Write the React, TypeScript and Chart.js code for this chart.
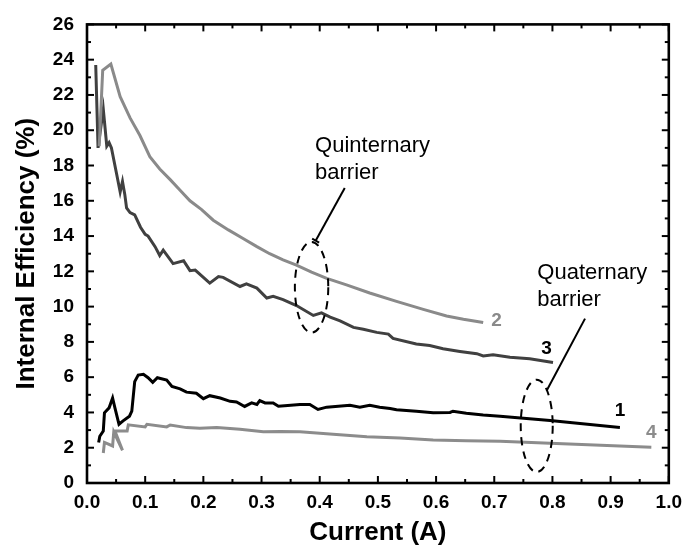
import React, { useEffect, useRef } from "react";
import { Chart, registerables } from "chart.js";

Chart.register(...registerables);

// Current (A) vs Internal Efficiency (%)
const series1: number[][] = [
  [0.020, 2.3], [0.022, 2.65], [0.028, 2.95], [0.030, 3.98], [0.038, 4.26], [0.044, 4.82],
  [0.048, 4.26], [0.055, 3.33], [0.062, 3.52], [0.073, 3.79], [0.077, 4.07], [0.082, 5.75],
  [0.088, 6.12], [0.097, 6.16], [0.105, 5.97], [0.113, 5.71], [0.121, 5.97], [0.137, 5.84],
  [0.146, 5.47], [0.160, 5.34], [0.171, 5.15], [0.188, 5.09], [0.200, 4.78], [0.211, 4.95],
  [0.229, 4.82], [0.246, 4.63], [0.257, 4.59], [0.271, 4.34], [0.283, 4.54], [0.292, 4.45],
  [0.297, 4.67], [0.306, 4.54], [0.320, 4.54], [0.329, 4.35], [0.345, 4.40], [0.366, 4.45],
  [0.383, 4.45], [0.397, 4.17], [0.412, 4.30], [0.452, 4.41], [0.469, 4.30], [0.486, 4.41],
  [0.503, 4.30], [0.521, 4.22], [0.532, 4.15], [0.566, 4.07], [0.595, 3.98], [0.624, 4.00],
  [0.629, 4.07], [0.652, 3.96], [0.681, 3.85], [0.710, 3.78], [0.796, 3.55], [0.916, 3.14],
];

const series2: number[][] = [
  [0.021, 19.1], [0.027, 23.4], [0.041, 23.75], [0.057, 21.9], [0.074, 20.7], [0.091, 19.7],
  [0.108, 18.5], [0.125, 17.8], [0.143, 17.2], [0.160, 16.6], [0.177, 16.0], [0.197, 15.5],
  [0.217, 14.9], [0.243, 14.35], [0.269, 13.85], [0.292, 13.4], [0.314, 13.0], [0.337, 12.65],
  [0.360, 12.35], [0.386, 11.95], [0.412, 11.6], [0.446, 11.23], [0.486, 10.77], [0.532, 10.3],
  [0.578, 9.84], [0.618, 9.47], [0.647, 9.28], [0.681, 9.1],
];

const series3: number[][] = [
  [0.015, 23.7], [0.019, 19.0], [0.028, 21.2], [0.034, 19.1], [0.038, 19.3], [0.042, 19.0],
  [0.051, 17.5], [0.057, 16.5], [0.061, 17.1], [0.065, 16.35], [0.068, 15.6], [0.074, 15.33],
  [0.082, 15.2], [0.092, 14.5], [0.100, 14.1], [0.105, 14.0], [0.117, 13.4], [0.125, 12.9],
  [0.131, 13.2], [0.148, 12.44], [0.166, 12.6], [0.177, 12.04], [0.186, 12.07], [0.211, 11.33],
  [0.226, 11.7], [0.234, 11.66], [0.263, 11.14], [0.274, 11.29], [0.292, 11.05], [0.309, 10.49],
  [0.320, 10.58], [0.337, 10.4], [0.360, 10.06], [0.389, 9.5], [0.403, 9.65], [0.418, 9.4],
  [0.435, 9.19], [0.458, 8.82], [0.475, 8.72], [0.498, 8.54], [0.518, 8.44], [0.526, 8.2],
  [0.566, 7.88], [0.589, 7.79], [0.612, 7.61], [0.641, 7.46], [0.670, 7.33], [0.681, 7.2],
  [0.698, 7.27], [0.727, 7.13], [0.761, 7.05], [0.801, 6.83],
];

const series4: number[][] = [
  [0.028, 1.7], [0.030, 2.3], [0.044, 2.1], [0.046, 2.9], [0.061, 1.85], [0.048, 2.95],
  [0.069, 2.95], [0.071, 3.3], [0.100, 3.18], [0.103, 3.33], [0.137, 3.18], [0.143, 3.29],
  [0.171, 3.14], [0.194, 3.1], [0.223, 3.14], [0.263, 3.05], [0.303, 2.9], [0.332, 2.92],
  [0.366, 2.9], [0.423, 2.77], [0.481, 2.62], [0.538, 2.55], [0.595, 2.44], [0.652, 2.4],
  [0.710, 2.37], [0.796, 2.25], [0.970, 2.03],
];

const seriesNames = ["1", "2", "3", "4"];
const seriesColors = ["#000000", "#8a8a8a", "#404040", "#8c8c8c"];

const xTitle = "Current (A)";
const yTitle = "Internal Efficiency (%)";
const annotationTexts = [["Quinternary", "barrier"], ["Quaternary", "barrier"]];

const FONT = "'Liberation Sans', Arial, Helvetica, sans-serif";

const toPts = (s: number[][]) => s.map(([x, y]) => ({ x, y }));

const decorPlugin = {
  id: "decor",
  afterDatasetsDraw(chart: any) {
    const { ctx, chartArea: a, scales } = chart;
    const xs = scales.x;
    const ys = scales.y;
    const P = (xv: number, yv: number) => [xs.getPixelForValue(xv), ys.getPixelForValue(yv)];
    const line = (x1: number, y1: number, x2: number, y2: number) => {
      ctx.beginPath();
      ctx.moveTo(x1, y1);
      ctx.lineTo(x2, y2);
      ctx.stroke();
    };
    ctx.save();
    ctx.strokeStyle = "#000";
    ctx.lineCap = "butt";

    // ticks (major from scale, minor at midpoints)
    const xv = xs.ticks.map((t: any) => t.value);
    const yv = ys.ticks.map((t: any) => t.value);
    const mids = (v: number[]) => v.slice(1).map((b, i) => (b + v[i]) / 2);
    ctx.lineWidth = 2;
    xv.forEach((v: number) => {
      const p = xs.getPixelForValue(v);
      line(p, a.bottom, p, a.bottom - 7);
      line(p, a.top, p, a.top + 7);
    });
    mids(xv).forEach((v: number) => {
      const p = xs.getPixelForValue(v);
      line(p, a.bottom, p, a.bottom - 4);
      line(p, a.top, p, a.top + 4);
    });
    yv.forEach((v: number) => {
      const p = ys.getPixelForValue(v);
      line(a.left, p, a.left + 7, p);
      line(a.right, p, a.right - 7, p);
    });
    mids(yv).forEach((v: number) => {
      const p = ys.getPixelForValue(v);
      line(a.left, p, a.left + 4, p);
      line(a.right, p, a.right - 4, p);
    });

    // frame
    ctx.lineWidth = 2.6;
    ctx.strokeRect(a.left, a.top, a.right - a.left, a.bottom - a.top);

    // series labels
    ctx.font = `bold 19px ${FONT}`;
    ctx.textAlign = "center";
    ctx.textBaseline = "middle";
    const labelPos = [[0.916, 4.1], [0.704, 9.2], [0.79, 7.6], [0.97, 2.85]];
    labelPos.forEach(([lx, ly], i) => {
      const [px, py] = P(lx, ly);
      ctx.fillStyle = seriesColors[i] === "#404040" ? "#000" : seriesColors[i];
      ctx.fillText(seriesNames[i], px, py);
    });

    // annotation texts
    ctx.fillStyle = "#000";
    ctx.font = `22px ${FONT}`;
    ctx.textAlign = "left";
    ctx.textBaseline = "alphabetic";
    const textPos = [[0.392, 18.75], [0.774, 11.55]];
    textPos.forEach(([tx, ty], i) => {
      const [px, py] = P(tx, ty);
      annotationTexts[i].forEach((s, j) => ctx.fillText(s, px, py + j * 27));
    });

    // leader lines
    ctx.lineWidth = 2;
    const leaders = [
      [0.393, 13.74, 0.443, 16.72],
      [0.79, 5.23, 0.856, 9.32],
    ];
    leaders.forEach(([x1, y1, x2, y2], i) => {
      const [p1x, p1y] = P(x1, y1);
      const [p2x, p2y] = P(x2, y2);
      line(p1x, p1y, p2x, p2y);
      if (i === 0) {
        const dx = p2x - p1x, dy = p2y - p1y;
        const l = Math.hypot(dx, dy);
        const nx = -dy / l, ny = dx / l;
        line(p1x - nx * 4, p1y - ny * 4, p1x + nx * 4, p1y + ny * 4);
      }
    });

    // dashed ellipses
    const ellipses = [
      [0.386, 11.1, 0.0287, 2.57],
      [0.773, 3.24, 0.0275, 2.62],
    ];
    ctx.setLineDash([8, 6]);
    ctx.lineWidth = 2;
    ellipses.forEach(([cx, cy, rx, ry]) => {
      const [px, py] = P(cx, cy);
      const rpx = Math.abs(xs.getPixelForValue(cx + rx) - px);
      const rpy = Math.abs(ys.getPixelForValue(cy + ry) - py);
      ctx.beginPath();
      ctx.ellipse(px, py, rpx, rpy, 0, 0, Math.PI * 2);
      ctx.stroke();
    });
    ctx.restore();
  },
};

export default function App() {
  const ref = useRef<HTMLCanvasElement | null>(null);
  useEffect(() => {
    if (!ref.current) return;
    const all = [series1, series2, series3, series4];
    const chart = new Chart(ref.current, {
      type: "scatter",
      data: {
        datasets: all.map((s, i) => ({
          label: seriesNames[i],
          data: toPts(s),
          showLine: true,
          borderColor: seriesColors[i],
          backgroundColor: seriesColors[i],
          borderWidth: 3,
          pointRadius: 0,
          tension: 0,
        })),
      },
      options: {
        responsive: false,
        animation: false,
        devicePixelRatio: 1,
        layout: { padding: { left: 0, right: 21, top: 17, bottom: 0 } },
        plugins: { legend: { display: false }, tooltip: { enabled: false } },
        scales: {
          x: {
            type: "linear",
            min: 0,
            max: 1,
            grid: { display: false, drawTicks: false },
            border: { display: false },
            ticks: {
              stepSize: 0.1,
              padding: 8,
              color: "#000",
              font: { family: FONT, size: 19, weight: "bold" },
              callback: (v: any) => Number(v).toFixed(1),
              maxRotation: 0,
              autoSkip: false,
            },
            title: {
              display: true,
              text: xTitle,
              color: "#000",
              font: { family: FONT, size: 26, weight: "bold" },
              padding: { top: 0, bottom: 4 },
            },
            afterFit: (s: any) => { s.height = 69; },
          },
          y: {
            type: "linear",
            min: 0,
            max: 26,
            grid: { display: false, drawTicks: false },
            border: { display: false },
            ticks: {
              stepSize: 2,
              padding: 13,
              color: "#000",
              font: { family: FONT, size: 19, weight: "bold" },
              autoSkip: false,
            },
            title: {
              display: true,
              text: yTitle,
              color: "#000",
              font: { family: FONT, size: 26, weight: "bold" },
              padding: { top: 11, bottom: 0 },
            },
            afterFit: (s: any) => { s.width = 87; },
          },
        },
      },
      plugins: [decorPlugin],
    } as any);
    return () => chart.destroy();
  }, []);
  return (
    <div style={{ position: "fixed", left: 0, top: 0, width: 690, height: 552, background: "#fff" }}>
      <canvas ref={ref} width={690} height={552} style={{ width: 690, height: 552 }} />
    </div>
  );
}
